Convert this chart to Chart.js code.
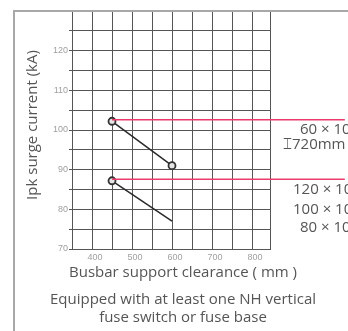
<!DOCTYPE html>
<html>
<head>
<meta charset="utf-8">
<script src="https://cdn.jsdelivr.net/npm/chart.js@4"></script>
<style>
  html, body { margin: 0; padding: 0; background: #fff; }
  #wrap { width: 348px; height: 331px; position: relative; }
</style>
</head>
<body>
<div id="wrap"><canvas id="chart"></canvas></div>
<script>
// clearance (mm) on x, Ipk (kA) on y
const clearance = [450, 600];
const upperCurve = [102.2, 91];
const lowerCurve = [87.2, 77];
const pinkX = [450, 1032];
const pinkUpper = [102.6, 102.6];
const pinkLower = [87.6, 87.6];
const xTicks = [350, 400, 450, 500, 550, 600, 650, 700, 750, 800, 845];
const xLabels = [400, 500, 600, 700, 800];
const yLabels = [70, 80, 90, 100, 110, 120];

const toPts = (xs, ys) => xs.map((x, i) => ({ x: x, y: ys[i] }));
const textCol = '#555';
const gridCol = '#555';
const fam = '"Open Sans", "Liberation Sans", sans-serif';

// frame, axis titles, caption and side notes
const annotate = {
  id: 'annotate',
  afterDraw(chart) {
    const ctx = chart.ctx;
    const a = chart.chartArea;
    ctx.save();
    ctx.strokeStyle = '#a8a8a8';
    ctx.lineWidth = 2;
    ctx.beginPath();
    ctx.moveTo(14, 331);
    ctx.lineTo(14, a.top);
    ctx.lineTo(348, a.top);
    ctx.stroke();

    ctx.fillStyle = textCol;
    ctx.textBaseline = 'middle';
    ctx.font = '15px ' + fam;
    ctx.textAlign = 'center';
    const cx = 183;
    ctx.fillText('Busbar support clearance ( mm )', cx, a.bottom + 24);
    ctx.fillText('Equipped with at least one NH vertical', cx, a.bottom + 51);
    ctx.fillText('fuse switch or fuse base', cx, a.bottom + 69);

    ctx.save();
    ctx.translate(33, 125);
    ctx.rotate(-Math.PI / 2);
    ctx.fillText('Ipk surge current (kA)', 0, 0);
    ctx.restore();

    ctx.textAlign = 'left';
    ctx.fillText('60 × 10 mm', 300, 130);
    ctx.fillText('\u2336720mm', 283, 145);
    ctx.fillText('120 × 10 mm', 293, 190);
    ctx.fillText('100 × 10 mm', 293, 210);
    ctx.fillText('80 × 10 mm', 300, 228);
    ctx.restore();
  }
};

new Chart(document.getElementById('chart'), {
  type: 'line',
  data: {
    datasets: [
      {
        data: toPts(pinkX, pinkUpper),
        borderColor: '#ec3a6e',
        borderWidth: 1.5,
        pointRadius: 0,
        clip: false,
      },
      {
        data: toPts(pinkX, pinkLower),
        borderColor: '#ec3a6e',
        borderWidth: 1.5,
        pointRadius: 0,
        clip: false,
      },
      {
        data: toPts(clearance, upperCurve),
        borderColor: '#2a2a2a',
        borderWidth: 1.5,
        pointRadius: 3.5,
        pointBorderWidth: 1.8,
        pointBorderColor: '#333',
        pointBackgroundColor: '#e6e6e6',
        clip: false,
      },
      {
        data: toPts(clearance, lowerCurve),
        borderColor: '#2a2a2a',
        borderWidth: 1.5,
        pointRadius: [3.5, 0],
        pointBorderWidth: 1.8,
        pointBorderColor: '#333',
        pointBackgroundColor: '#e6e6e6',
        clip: false,
      },
    ],
  },
  options: {
    responsive: true,
    maintainAspectRatio: false,
    animation: false,
    layout: { padding: { top: 11, right: 78, left: 0, bottom: 0 } },
    plugins: { legend: { display: false }, tooltip: { enabled: false } },
    scales: {
      x: {
        type: 'linear',
        min: 350,
        max: 845,
        afterFit: (s) => { s.height = 82; },
        afterBuildTicks: (s) => { s.ticks = xTicks.map((v) => ({ value: v })); },
        grid: { color: gridCol, lineWidth: 1, drawTicks: false },
        border: { color: gridCol, width: 1 },
        ticks: {
          padding: 3,
          labelOffset: 3,
          maxRotation: 0,
          autoSkip: false,
          color: '#a0a0a0',
          font: { size: 9, family: 'Liberation Sans' },
          callback: (v) => (xLabels.includes(v) ? String(v) : ''),
        },
      },
      y: {
        min: 70,
        max: 130,
        afterFit: (s) => { s.width = 72; },
        grid: { color: gridCol, lineWidth: 1, tickLength: 3 },
        border: { color: gridCol, width: 1 },
        ticks: {
          stepSize: 5,
          padding: 1,
          autoSkip: false,
          color: '#a0a0a0',
          font: { size: 9, family: 'Liberation Sans' },
          callback: (v) => (yLabels.includes(v) ? String(v) : ''),
        },
      },
    },
  },
  plugins: [annotate],
});
</script>
</body>
</html>
